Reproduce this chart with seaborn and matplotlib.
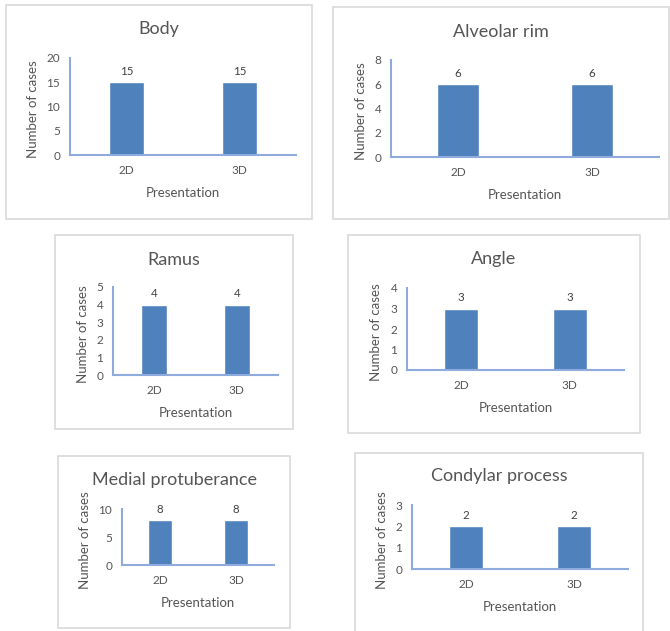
import matplotlib.pyplot as plt
import seaborn as sns
import pandas as pd
from matplotlib.patches import Rectangle

# data
presentation = ["2D", "3D"]
titles = ["Body", "Alveolar rim", "Ramus", "Angle", "Medial protuberance", "Condylar process"]
body = [15, 15]
alveolar_rim = [6, 6]
ramus = [4, 4]
angle = [3, 3]
medial_protuberance = [8, 8]
condylar_process = [2, 2]
y_max = [20, 8, 5, 4, 10, 3]
y_step = [5, 2, 1, 1, 5, 1]

series = [body, alveolar_rim, ramus, angle, medial_protuberance, condylar_process]

# layout in pixels: box (x0, y0, x1, y1), axes (left, top, right, baseline)
boxes = [(6, 5, 312, 219), (333, 7, 669, 219), (55, 235, 293, 429),
         (348, 235, 640, 433), (58, 456, 290, 628), (355, 453, 643, 640)]
axes_px = [(70, 58, 296, 155), (391, 60, 659, 157), (113, 287, 278, 375),
           (407, 288, 624, 370), (122, 509, 274, 565), (412, 505, 628, 569)]
title_y = [29, 32, 260, 259, 480, 476]
ylabel_off = [37, 30, 30, 31, 37, 30]

W, H = 670, 631
BAR = "#4F81BD"
AXIS = "#8FAADC"
TEXT = "#555555"
BORDER = "#D9D9D9"

sns.set_theme(style="white")
plt.rcParams["font.family"] = ["Lato", "DejaVu Sans"]

fig = plt.figure(figsize=(W / 100, H / 100), dpi=100)
fig.patch.set_facecolor("white")

for i in range(6):
    bx0, by0, bx1, by1 = boxes[i]
    fig.patches.append(Rectangle((bx0 / W, 1 - by1 / H), (bx1 - bx0) / W, (by1 - by0) / H,
                                 transform=fig.transFigure, fill=False,
                                 edgecolor=BORDER, linewidth=1.2, zorder=0))

    l, t, r, b = axes_px[i]
    ax = fig.add_axes([l / W, 1 - b / H, (r - l) / W, (b - t) / H])
    ax.set_facecolor("none")
    df = pd.DataFrame({"Presentation": presentation, "cases": series[i]})
    sns.barplot(data=df, x="Presentation", y="cases", color=BAR, width=0.31,
                saturation=1, ax=ax, errorbar=None)
    ax.set_xlim(-0.5, 1.5)
    ax.set_ylim(0, y_max[i])
    ax.set_yticks(range(0, y_max[i] + 1, y_step[i]))
    for c in ax.containers:
        ax.bar_label(c, padding=4, fontsize=8.3, color="#404040")
    for s in ["top", "right"]:
        ax.spines[s].set_visible(False)
    for s in ["left", "bottom"]:
        ax.spines[s].set_color(AXIS)
        ax.spines[s].set_linewidth(1.5)
    ax.tick_params(axis="both", length=0, labelsize=8.5, labelcolor=TEXT)
    ax.tick_params(axis="x", pad=7.5)
    ax.tick_params(axis="y", pad=7)
    ax.set_xlabel("")
    ax.set_ylabel("")

    fig.text(((bx0 + bx1) / 2) / W, 1 - title_y[i] / H, titles[i], ha="center", va="center",
             fontsize=13, color=TEXT)
    fig.text(((l + r) / 2) / W, 1 - (b + 38) / H, "Presentation", ha="center", va="center",
             fontsize=9.5, color=TEXT)
    fig.text((l - ylabel_off[i]) / W, 1 - ((t + b) / 2 + 3) / H, "Number of cases",
             ha="center", va="center", rotation=90, fontsize=9.5, color=TEXT)

fig.savefig("out.png", dpi=100, facecolor="white")
